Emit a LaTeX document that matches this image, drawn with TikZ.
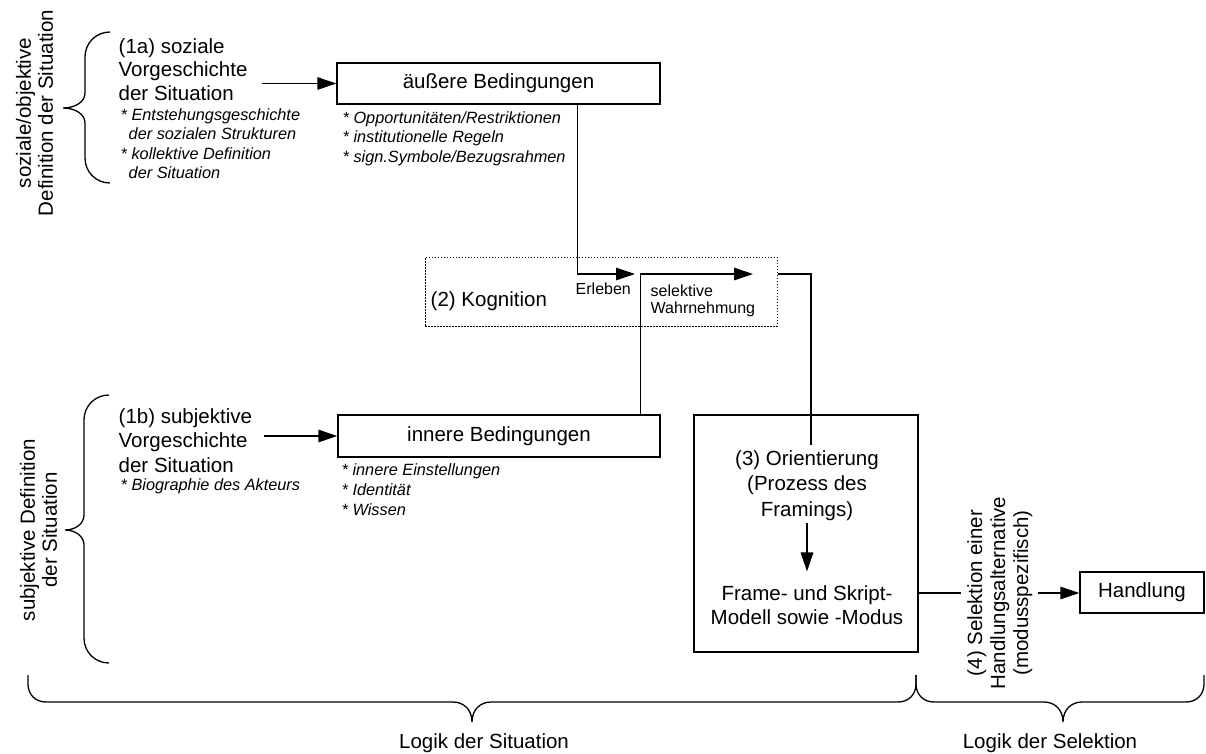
\documentclass[tikz,border=0pt]{standalone}
\usepackage{fontspec}
\setmainfont{Liberation Sans}
\usetikzlibrary{arrows.meta}

% stacked lines with a fixed baseline distance; the box's baseline is the first line's
\newcommand\linesL[2]{\vtop{\baselineskip=#1\lineskiplimit=-100pt\relax\halign{##\hfil\cr#2\crcr}}}
\newcommand\linesC[2]{\vtop{\baselineskip=#1\lineskiplimit=-100pt\relax\halign{\hfil##\hfil\cr#2\crcr}}}

\begin{document}
\begin{tikzpicture}[x=1pt,y=-1pt,line width=1.4pt,
  txt/.style={inner sep=0pt, font=\fontsize{20.5}{23}\selectfont},
  note/.style={inner sep=0pt, font=\fontsize{16.3}{19.5}\selectfont\itshape},
  small/.style={inner sep=0pt, font=\fontsize{16}{18}\selectfont},
  box/.style={draw, line width=1.4pt, inner sep=0pt, font=\fontsize{20.5}{23}\selectfont},
  arr/.style={-{Triangle[length=19pt,width=12.5pt]}},
  brace/.style={line width=1.3pt}]
\useasboundingbox (0,0) rectangle (1206,753);

% boxes
\node[box, minimum width=323pt, minimum height=41pt] (aus) at (498.5,83.5) {äußere Bedingungen};
\node[box, minimum width=322pt, minimum height=42pt] (inn) at (499,436) {innere Bedingungen};
\node[draw, dash pattern=on 1.5pt off 1.5pt, line width=1pt, minimum width=352pt, minimum height=69pt, inner sep=0pt] (kog) at (601,291.5) {};
\node[box, minimum width=224pt, minimum height=237pt] (ori) at (806,533.5) {};
\node[box, minimum width=124pt, minimum height=41pt] (hand) at (1142,592.5) {Handlung};

% prehistory texts
\node[txt, anchor=base west] (s1a) at (118,53) {\linesL{23.5pt}{(1a) soziale\cr Vorgeschichte\cr der Situation}};
\node[note, anchor=base west] (n1a) at (120,120) {\linesL{19.6pt}{* Entstehungsgeschichte\cr\hspace{8pt}der sozialen Strukturen\cr * kollektive Definition\cr\hspace{8pt}der Situation}};
\node[txt, anchor=base west] (s1b) at (118,423) {\linesL{24.5pt}{(1b) subjektive\cr Vorgeschichte\cr der Situation}};
\node[note, anchor=base west] (n1b) at (120,490) {* Biographie des Akteurs};

% conditions
\node[note, anchor=base west] (naus) at (342,123) {\linesL{19.6pt}{* Opportunitäten/Restriktionen\cr * institutionelle Regeln\cr * sign.Symbole/Bezugsrahmen}};
\node[note, anchor=base west] (ninn) at (341,475) {\linesL{20pt}{* innere Einstellungen\cr * Identität\cr * Wissen}};

% cognition
\node[txt, anchor=base west] (k2) at (430,306) {(2) Kognition};
\node[small, anchor=base west] (erlt) at (575,294) {Erleben};
\node[small, anchor=base west] (swt) at (650,296) {\linesL{17.6pt}{selektive\cr Wahrnehmung}};

% orientation
\node[txt, anchor=base] (o3) at (807,465) {\linesC{25.5pt}{(3) Orientierung\cr (Prozess des\cr Framings)}};
\node[txt, anchor=base] (fr) at (807,600) {\linesC{24pt}{Frame- und Skript-\cr Modell sowie -Modus}};

% rotated labels
\node[txt, rotate=90, inner sep=5pt] (sel) at (999.7,593) {\linesC{23pt}{(4) Selektion einer\cr Handlungsalternative\cr (modusspezifisch)}};
\node[txt, rotate=90] (lab1) at (34.6,113) {\linesC{22pt}{soziale/objektive\cr Definition der Situation}};
\node[txt, rotate=90] (lab2) at (38.6,530) {\linesC{22pt}{subjektive Definition\cr der Situation}};

% brace captions
\node[txt, anchor=base] (ls) at (484,748) {Logik der Situation};
\node[txt, anchor=base] (lsel) at (1050,748) {Logik der Selektion};

% free ends
\coordinate (erl) at (635,274);
\coordinate (wahr) at (753,274);
\coordinate (orin) at (811,445);

% connectors
\draw[arr] ([xshift=14pt]s1a.east |- aus.west) -- (aus.west);
\draw[arr] ([xshift=11pt]s1b.east |- inn.west) -- (inn.west);
\draw[arr] ([xshift=-83pt]aus.south east) |- (erl);
\draw[arr] ([xshift=-20pt]inn.north east) |- (wahr);
\draw (kog.east |- erl) -| (orin);
\draw[arr] ([yshift=-2pt]o3.south) -- ([yshift=13pt]fr.north);
\draw (ori.east |- sel.north) -- (sel.north);
\draw[arr] (sel.south) -- (hand.west |- sel.south);

% braces
\draw[brace] (110,32) .. controls (96,32) and (85,43) .. (85,57) -- (85,93)
  .. controls (85,102) and (75,108) .. (63,108)
  .. controls (75,108) and (85,114) .. (85,123) -- (85,158)
  .. controls (85,172) and (96,183) .. (110,183);
\draw[brace] (109,395) .. controls (95,395) and (84,406) .. (84,420) -- (84,515)
  .. controls (84,524) and (75,530) .. (65,530)
  .. controls (75,530) and (84,536) .. (84,545) -- (84,638)
  .. controls (84,652) and (95,663) .. (109,663);
\draw[brace] (28,675) -- (28,684) .. controls (28,694) and (35,702) .. (46,702) -- (453,702)
  .. controls (464,702) and (472,710) .. (472,722)
  .. controls (472,710) and (480,702) .. (491,702) -- (898,702)
  .. controls (909,702) and (916,694) .. (916,684) -- (916,675);
\draw[brace] (916,675) -- (916,684) .. controls (916,694) and (923,702) .. (934,702) -- (1044,702)
  .. controls (1055,702) and (1063,710) .. (1063,722)
  .. controls (1063,710) and (1071,702) .. (1082,702) -- (1186,702)
  .. controls (1197,702) and (1204,694) .. (1204,684) -- (1204,675);
\end{tikzpicture}
\end{document}
